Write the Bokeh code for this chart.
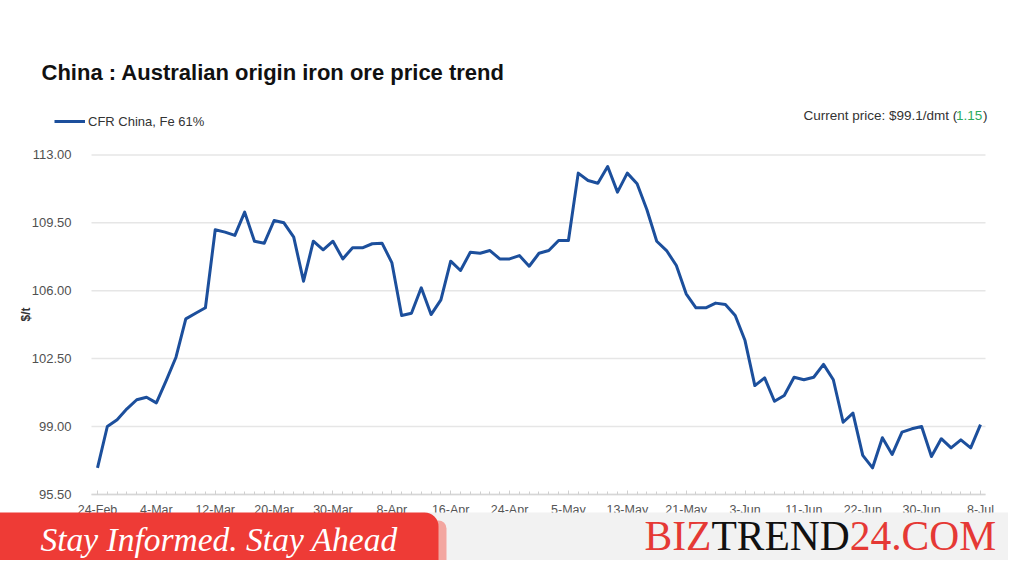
import math
from bokeh.plotting import figure
from bokeh.models import (Range1d, FixedTicker, NumeralTickFormatter, Label,
                          Legend, LegendItem, ColumnDataSource)
from bokeh.embed import file_html
from bokeh.resources import INLINE

# ---------------- data ----------------
tick_labels = ["24-Feb", "4-Mar", "12-Mar", "20-Mar", "30-Mar", "8-Apr", "16-Apr",
               "24-Apr", "5-May", "13-May", "21-May", "3-Jun", "11-Jun", "22-Jun",
               "30-Jun", "8-Jul"]
tick_every = 6
price = [96.87, 99.00, 99.35, 99.91, 100.38, 100.51, 100.22, 101.37, 102.57, 104.55,
         104.84, 105.12, 109.14, 109.02, 108.85, 110.05, 108.55, 108.45, 109.62, 109.50,
         108.76, 106.49, 108.55, 108.11, 108.55, 107.64, 108.21, 108.21, 108.42, 108.45,
         107.45, 104.72, 104.84, 106.15, 104.77, 105.53, 107.52, 107.04, 107.98, 107.93,
         108.07, 107.64, 107.64, 107.81, 107.26, 107.93, 108.07, 108.59, 108.59, 112.06,
         111.68, 111.54, 112.40, 111.08, 112.06, 111.51, 110.17, 108.55, 108.07, 107.30,
         105.84, 105.12, 105.12, 105.36, 105.29, 104.72, 103.43, 101.11, 101.51, 100.30,
         100.60, 101.54, 101.41, 101.54, 102.20, 101.41, 99.22, 99.69, 97.51, 96.87,
         98.42, 97.56, 98.71, 98.88, 99.00, 97.45, 98.37, 97.90, 98.31, 97.90, 99.10]
y_ticks = [95.5, 99.0, 102.5, 106.0, 109.5, 113.0]
series_name = "CFR China, Fe 61%"
title_text = "China : Australian origin iron ore price trend"
price_text = "Current price: $99.1/dmt ("
change_text = "1.15"
close_text = ")"
y_label = "$/t"
slogan = "Stay Informed. Stay Ahead"
brand = ["BIZ", "TREND", "24.COM"]

idx = list(range(len(price)))
major_ticks = idx[::tick_every]

FONT = "Liberation Sans"
SERIF = "Liberation Serif"
LINE_COLOR = "#1c4f9c"

W, H = 1008, 560


# picture-pixel -> data helpers (layout only)
def X(px):
    return (px - 97.0) / 9.811


def Y(py):
    return 99.0 + (426.0 - py) / 19.4


X0, X1 = X(91), X(985)          # plotting area extent
Y0, Y1 = y_ticks[0], y_ticks[-1]

p = figure(width=W, height=H, output_backend="svg", toolbar_location=None,
           x_range=Range1d(X(0), X(W)), y_range=Range1d(Y(H), Y(0)),
           min_border=0, min_border_left=0, min_border_right=0,
           min_border_top=0, min_border_bottom=0, outline_line_color=None,
           background_fill_color="white", border_fill_color="white")
p.grid.visible = False

# grid lines at the y ticks
p.segment(x0=[X0] * len(y_ticks), x1=[X1] * len(y_ticks), y0=y_ticks, y1=y_ticks,
          line_color="#e6e6e6", line_width=1.5, level="underlay")

src = ColumnDataSource(data=dict(x=idx, y=price))
r = p.line("x", "y", source=src, line_color=LINE_COLOR, line_width=3,
           line_join="round")

# axes drawn at fixed locations
xa = p.xaxis[0]
xa.fixed_location = Y0
xa.bounds = (X0, X1)
xa.ticker = FixedTicker(ticks=major_ticks, minor_ticks=idx)
xa.major_label_overrides = {t: lab for t, lab in zip(major_ticks, tick_labels)}
xa.major_label_text_font = FONT
xa.major_label_text_font_size = "12.5px"
xa.major_label_text_color = "#555555"
xa.major_label_standoff = 9
xa.axis_line_color = "#d6d6d6"
xa.axis_line_width = 1.5
xa.major_tick_in = 4
xa.major_tick_out = 0
xa.minor_tick_in = 3
xa.minor_tick_out = 0
xa.major_tick_line_color = "#d0d0d0"
xa.minor_tick_line_color = "#d0d0d0"

ya = p.yaxis[0]
ya.fixed_location = X0
ya.bounds = (Y0, Y1)
ya.ticker = FixedTicker(ticks=y_ticks)
ya.formatter = NumeralTickFormatter(format="0.00")
ya.major_label_text_font = FONT
ya.major_label_text_font_size = "13px"
ya.major_label_text_color = "#505050"
ya.major_label_standoff = 14
ya.axis_line_color = None
ya.major_tick_line_color = None
ya.minor_tick_line_color = None

# legend (frame covers the whole canvas)
legend = Legend(items=[LegendItem(label=series_name, renderers=[r])],
                location=(54, 429), orientation="vertical",
                background_fill_alpha=0, border_line_color=None,
                padding=0, margin=0, spacing=0,
                glyph_width=31, glyph_height=20, label_height=20,
                label_standoff=3, label_text_font=FONT,
                label_text_font_size="13px", label_text_color="#333333")
p.add_layout(legend)

# header texts
p.add_layout(Label(x=X(41), y=Y(72), text=title_text, text_font=FONT,
                   text_font_style="bold", text_font_size="22px",
                   text_color="#111111", text_baseline="middle"))
p.add_layout(Label(x=X(25), y=Y(314), text=y_label, angle=math.pi / 2,
                   text_font=FONT, text_font_style="bold", text_font_size="12px",
                   text_color="#333333", text_align="center",
                   text_baseline="middle"))
for txt, col, px in [(price_text, "#333333", 803), (change_text, "#2eaa5c", 955.5),
                     (close_text, "#333333", 982.5)]:
    p.add_layout(Label(x=X(px), y=Y(115), text=txt, text_font=FONT,
                       text_font_size="13.5px", text_color=col,
                       text_baseline="middle"))

# ---------------- banner ----------------
p.quad(left=[X(420)], right=[X(1040)], top=[Y(512)], bottom=[Y(600)],
       fill_color="#f2f2f2", line_color=None, level="annotation")
p.quad(left=[X(428)], right=[X(446)], top=[Y(520)], bottom=[Y(600)],
       fill_color="#f3a6a0", line_color=None, border_radius=8, level="annotation")
p.quad(left=[X(-20)], right=[X(438)], top=[Y(512)], bottom=[Y(600)],
       fill_color="#ee3b36", line_color=None, border_radius=14, level="annotation")
p.add_layout(Label(x=X(40), y=Y(539), text=slogan, text_font=SERIF,
                   text_font_style="italic", text_font_size="33.5px",
                   text_color="white", text_baseline="middle", level="overlay"))
for txt, col, px in zip(brand, ["#e53935", "#111111", "#e53935"], [644, 710.9, 849.2]):
    p.add_layout(Label(x=X(px), y=Y(535), text=txt, text_font=SERIF,
                       text_font_size="41.5px", text_color=col,
                       text_baseline="middle", level="overlay"))

open("out.html", "w").write(file_html(p, INLINE))
